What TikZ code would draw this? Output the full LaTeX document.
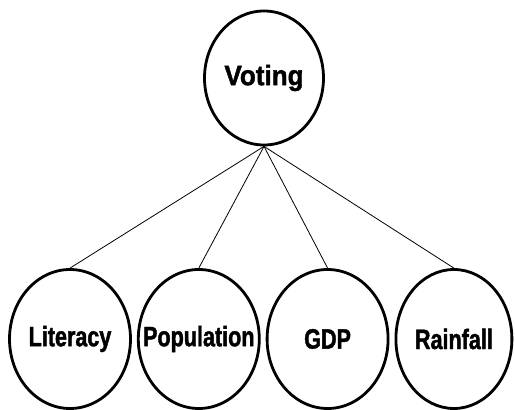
\documentclass[tikz,border=0pt]{standalone}
\usepackage{fontspec}
\setmainfont{Liberation Sans}
\newfontfamily\rootfont[FakeStretch=0.93,BoldFeatures={FakeBold=1.5}]{Liberation Sans}
\newfontfamily\leaffont[FakeStretch=0.77,BoldFeatures={FakeBold=1.5}]{Liberation Sans}
\usetikzlibrary{positioning,shapes.geometric}

\newcommand{\lbl}[2][0pt]{\makebox[0pt]{\raisebox{#1}{#2}}}

\begin{document}
\begin{tikzpicture}[x=1pt,y=1pt,node distance=5pt]
	\tikzstyle{var}=[ellipse,draw,line width=2.8pt,inner sep=0pt]
	\tikzstyle{leaf}=[var,minimum width=121pt,minimum height=139pt,font=\leaffont\bfseries\fontsize{28}{30}\selectfont]
	\useasboundingbox (0,0) rectangle (515,410);
		\node[var, minimum width=119pt, minimum height=134pt, font=\rootfont\bfseries\fontsize{28}{30}\selectfont] (voting) at (264,332) {\lbl[-3pt]{Voting}};
		\node[leaf] (literacy) at (70,71) {\lbl{Literacy}};
		\node[leaf] (population) [right=of literacy] {\lbl[-3pt]{Population}};
		\node[leaf] (gdp) [right=of population] {\lbl[-3pt]{GDP}};
		\node[leaf, minimum width=116pt] (rainfall) [right=of gdp] {\lbl{Rainfall}};
			\draw[line width=0.8pt] (voting.south) -- (literacy.north);
			\draw[line width=0.8pt] (voting.south) -- (population.north);
			\draw[line width=0.8pt] (voting.south) -- (gdp.north);
			\draw[line width=0.8pt] (voting.south) -- (rainfall.north);
\end{tikzpicture}
\end{document}
